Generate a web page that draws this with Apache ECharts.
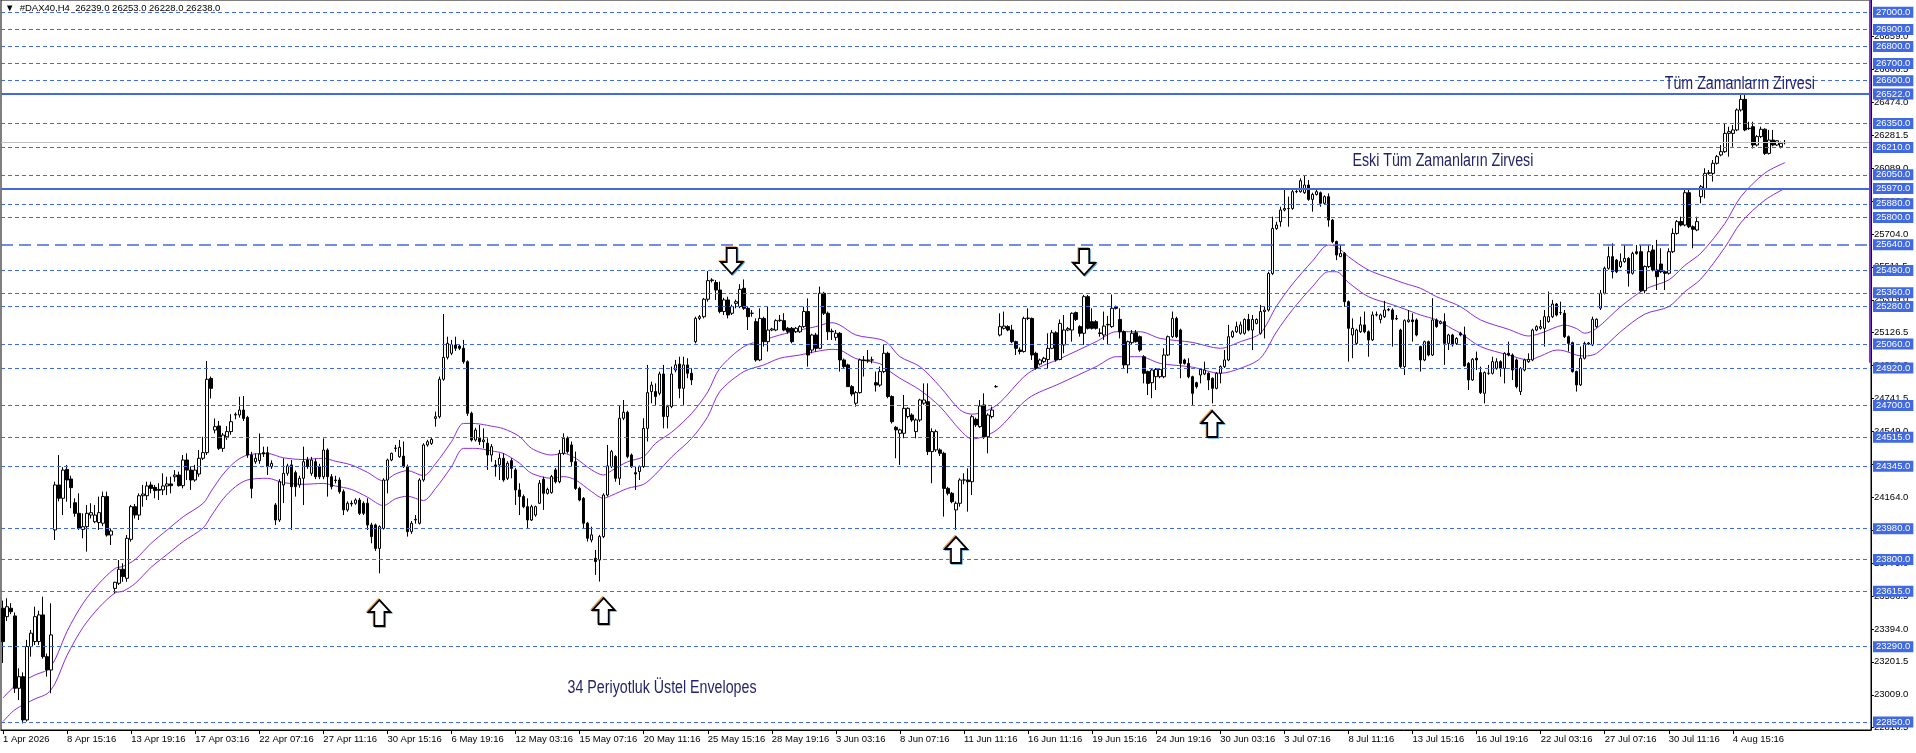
<!DOCTYPE html>
<html><head><meta charset="utf-8">
<script src="https://cdn.jsdelivr.net/npm/echarts@6/dist/echarts.min.js"></script>
<style>html,body{margin:0;padding:0;background:#fff}#c{width:1916px;height:753px}</style>
</head><body><div id="c"></div>
<script>
// ---------- DATA ----------
const openP = [
23515,23466,23515,23470,23047,23115,22862,23291,23320,23320,
23476,23232,23154,23973,24236,24158,24327,24271,24132,24070,
23976,23992,24060,24021,24016,24012,24168,23943,23631,23661,
23743,23690,23918,24109,24060,24173,24173,24236,24222,24210,
24207,24230,24242,24284,24294,24232,24382,24323,24265,24300,
24392,24425,24859,24557,24581,24450,24518,24548,24645,24645,
24674,24631,24411,24372,24378,24425,24425,24343,24119,24031,
24236,24304,24353,24308,24236,24275,24382,24304,24372,24343,
24284,24440,24284,24265,24265,24197,24090,24129,24129,24148,
24129,24129,24002,24002,23865,23982,24265,24382,24450,24401,
24405,24343,23963,24031,24012,24265,24470,24479,24625,24635,
24854,24982,25006,25054,25048,25035,24957,24655,24499,24509,
24489,24480,24411,24353,24353,24392,24275,24378,24324,24207,
24168,24109,24031,24060,24129,24269,24187,24191,24324,24255,
24421,24509,24470,24372,24216,24158,24012,23914,23807,23797,
23934,24177,24343,24402,24275,24626,24661,24411,24308,24314,
24343,24567,24782,24782,24772,24885,24636,24694,24908,24943,
24801,24938,24889,25074,25210,25220,25322,25431,25420,25376,
25250,25318,25240,25298,25279,25386,25269,25240,25191,24967,
25210,25074,25142,25142,25197,25197,25152,25152,25132,25132,
25162,25250,25025,25113,25035,25357,25240,25136,25099,25123,
24967,24938,24811,24714,24776,24967,24963,24967,24834,24820,
24899,25006,24753,24573,24538,24538,24636,24645,24548,24616,
24714,24723,24431,24441,24441,24421,24216,24187,24090,24129,
24265,24265,24255,24620,24577,24704,24518,24636,24811,25113,
25152,25162,25142,25074,25025,25016,25210,25210,25006,24943,
24957,24970,25035,25126,24970,25055,25142,25142,25244,25162,
25123,25337,25191,25191,25125,25113,25172,25162,25279,25204,
25132,24938,25068,25126,25103,24986,24899,24834,24869,24869,
24869,24996,25103,25210,25142,24967,24947,24869,24834,24879,
24885,24889,24860,24801,24889,24928,24967,25103,25132,25123,
25123,25204,25142,25181,25123,25250,25259,25473,25736,25775,
25844,25853,25853,25951,25951,25945,25990,25906,25935,25945,
25883,25922,25785,25659,25571,25590,25308,25113,25064,25132,
25172,25132,25084,25230,25204,25220,25259,25259,25210,25142,
24928,25191,25201,25201,25045,24967,25074,24996,25201,25181,
25191,25064,25113,25064,25123,25113,24947,24850,24977,24893,
24772,24889,24889,24918,24957,24918,25006,24996,24967,24782,
24908,24957,24967,25142,25152,25152,25191,25220,25294,25244,
25240,25103,25068,24899,24821,24977,25060,25055,25162,25270,
25357,25503,25571,25551,25513,25542,25561,25474,25600,25600,
25372,25513,25610,25493,25528,25483,25474,25600,25707,25776,
25756,25945,25746,25727,25922,25970,26058,26058,26117,26166,
26185,26292,26292,26312,26429,26491,26322,26331,26224,26273,
26316,26175,26253,26224,26214,26239];
const closeP = [
23320,23524,23495,23047,23115,22862,23291,23369,23466,23476,
23232,23154,23359,24236,24158,24323,24265,24220,24070,23982,
23992,24070,24074,24060,24074,24168,23943,23967,23667,23743,
23700,23924,24109,24060,24173,24183,24230,24216,24203,24205,
24230,24242,24232,24294,24232,24382,24323,24265,24323,24392,
24425,24854,24801,24577,24450,24528,24548,24606,24649,24674,
24625,24411,24216,24392,24417,24417,24343,24362,24031,24255,
24304,24347,24226,24226,24275,24372,24343,24382,24284,24284,
24440,24284,24226,24262,24197,24090,24129,24125,24148,24070,
24070,24002,23934,23865,23992,24265,24382,24421,24452,24456,
24343,23963,24012,24035,24265,24470,24489,24503,24635,24854,
24982,25064,25058,25035,25035,24957,24655,24499,24557,24489,
24499,24411,24460,24343,24392,24265,24363,24333,24207,24168,
24109,24031,24109,24109,24246,24187,24210,24285,24255,24421,
24509,24431,24372,24216,24148,24012,23924,23944,23788,23934,
24177,24347,24431,24275,24626,24661,24402,24343,24300,24343,
24567,24776,24820,24753,24885,24636,24694,24885,24938,24801,
24938,24889,24850,25210,25220,25322,25431,25435,25376,25250,
25318,25230,25279,25308,25380,25269,25220,25240,24967,25210,
25074,25142,25148,25197,25200,25142,25132,25074,25152,25162,
25250,24996,25113,25035,25357,25240,25132,25132,25123,24967,
24928,24811,24768,24776,24967,24963,24967,24967,24820,24899,
25006,24753,24606,24558,24558,24684,24684,24616,24616,24733,
24733,24431,24548,24548,24421,24216,24187,24138,24129,24265,
24265,24255,24635,24587,24698,24518,24645,24674,24811,25162,
25165,25142,25074,25035,25016,25210,25212,24996,24918,24967,
24977,25035,25126,24967,25181,25142,25150,25240,25204,25123,
25337,25152,25152,25152,25122,25165,25175,25269,25269,25132,
24938,25074,25123,25074,25025,24889,24830,24908,24912,24912,
24996,25103,25210,25103,24947,24947,24869,24772,24811,24912,
24908,24850,24801,24889,24928,24967,25103,25132,25162,25172,
25204,25142,25204,25204,25250,25259,25473,25736,25756,25844,
25853,25852,25951,25953,26015,25990,25906,25935,25951,25883,
25922,25785,25659,25581,25590,25308,25152,25152,25142,25172,
25132,25084,25230,25232,25230,25259,25262,25204,25207,24928,
25197,25201,25191,25113,24967,25074,24996,25201,25162,25191,
25064,25113,25055,25093,25113,24932,24850,24971,24967,24776,
24893,24889,24957,24957,24918,25006,24996,24908,24811,24918,
24967,24971,25142,25162,25162,25220,25220,25294,25230,25244,
25103,25064,24899,24821,24977,25064,25066,25205,25205,25357,
25503,25571,25483,25483,25542,25561,25474,25590,25590,25372,
25513,25600,25493,25454,25483,25474,25600,25707,25776,25756,
25945,25746,25731,25776,25980,26058,26062,26117,26156,26185,
26292,26302,26312,26429,26491,26312,26320,26224,26273,26316,
26175,26253,26224,26249,26234,26238];
const lowP = [
23195,23440,23480,23020,22978,22842,22852,23232,23300,23300,
23220,23115,23018,23914,24140,24060,24138,24100,24050,23973,
23924,23846,24040,24012,23973,23995,23934,23885,23602,23651,
23670,23670,23904,24040,24031,24109,24148,24187,24158,24148,
24177,24177,24187,24255,24226,24216,24265,24207,24255,24284,
24382,24411,24742,24538,24440,24430,24500,24530,24620,24630,
24610,24395,24158,24360,24360,24400,24294,24330,24002,24020,
24130,24290,23973,24168,24220,24119,24330,24290,24270,24270,
24270,24168,24210,24245,24185,24060,24080,24110,24120,24060,
24060,23973,23895,23850,23719,23975,24187,24375,24430,24395,
24335,23934,23950,24010,24005,24255,24460,24470,24577,24625,
24845,24970,24995,25020,25025,24945,24640,24490,24490,24470,
24450,24324,24372,24285,24265,24255,24265,24275,24119,24060,
24100,23983,24025,24050,24125,24090,24180,24185,24245,24246,
24411,24420,24343,24207,24140,23983,23905,23900,23710,23671,
23925,24168,24335,24255,24236,24615,24392,24335,24207,24265,
24335,24490,24714,24704,24760,24567,24567,24685,24895,24743,
24704,24860,24820,25064,25200,25210,25308,25420,25318,25240,
25230,25210,25230,25269,25270,25260,25142,25220,24957,24960,
25045,25016,25135,25135,25190,25135,25120,25064,25125,25125,
25155,24928,25006,25016,25030,25230,25084,25084,25080,24899,
24915,24811,24755,24694,24770,24870,24950,24947,24782,24810,
24890,24743,24595,24392,24353,24509,24625,24605,24509,24605,
24705,24411,24246,24430,24405,24051,24175,24129,23973,24109,
24240,24080,24177,24575,24570,24505,24421,24625,24805,25105,
25145,25135,25065,24996,25000,25010,25200,24967,24910,24935,
24950,24918,25030,24957,24965,25006,25135,25074,25195,25103,
25055,25145,25145,25145,25103,25084,25055,25155,25262,25093,
24918,24889,25060,25068,25015,24830,24762,24743,24791,24860,
24860,24990,25095,25095,24860,24940,24860,24704,24800,24830,
24878,24791,24713,24795,24830,24920,24960,25095,25125,25115,
25115,25135,25025,25175,25115,25093,25250,25464,25728,25746,
25836,25746,25845,25942,25945,25938,25898,25834,25928,25863,
25875,25746,25650,25551,25571,25278,24957,24977,25055,25125,
25123,24986,25078,25222,25181,25212,25252,25045,25200,24918,
24879,25185,25074,25105,24899,24960,24988,24990,25155,25175,
24938,25025,25045,25055,25105,24928,24791,24845,24908,24768,
24713,24880,24882,24910,24869,24830,24988,24850,24801,24762,
24900,24950,24960,25135,25145,25045,25185,25212,25222,25230,
25095,25016,24893,24782,24815,24970,25055,25048,25155,25259,
25350,25495,25444,25475,25505,25535,25396,25466,25582,25365,
25357,25505,25485,25376,25475,25376,25466,25592,25700,25748,
25748,25738,25620,25720,25883,25912,26050,26010,26110,26158,
26178,26156,26214,26305,26420,26305,26312,26204,26216,26265,
26166,26168,26216,26218,26204,26228];
const highP = [
23560,23573,23545,23490,23164,23140,23330,23388,23524,23500,
23583,23250,23544,24255,24411,24340,24353,24290,24158,24187,
24070,24119,24129,24119,24168,24197,24197,23982,23670,23797,
23778,23943,24119,24125,24187,24236,24255,24255,24236,24246,
24304,24284,24284,24323,24314,24411,24421,24343,24353,24440,
24518,24961,24870,24625,24610,24540,24580,24650,24660,24752,
24756,24640,24430,24420,24537,24460,24460,24380,24130,24270,
24392,24360,24382,24320,24290,24460,24400,24400,24390,24360,
24508,24450,24300,24290,24280,24210,24140,24145,24158,24160,
24140,24158,24015,24010,24000,24275,24390,24425,24470,24499,
24490,24355,24025,24060,24275,24480,24500,24515,24665,24870,
25236,25103,25084,25103,25060,25084,24965,24665,24570,24587,
24567,24509,24475,24382,24421,24421,24375,24392,24335,24246,
24180,24158,24120,24115,24265,24285,24220,24295,24335,24441,
24538,24520,24490,24431,24225,24165,24020,23992,23856,23944,
24187,24470,24441,24410,24704,24733,24670,24420,24343,24350,
24626,24938,24840,24830,24899,24938,24705,24928,24967,24986,
24986,24977,24918,25220,25230,25330,25487,25445,25435,25425,
25330,25337,25290,25320,25410,25438,25280,25259,25210,25269,
25220,25279,25155,25205,25230,25240,25160,25160,25160,25170,
25279,25327,25120,25125,25396,25365,25250,25150,25142,25130,
24975,24945,24820,24785,24975,24990,25025,24986,24899,24928,
25055,25015,24760,24580,24565,24762,24690,24655,24625,24740,
24830,24830,24567,24560,24450,24430,24225,24195,24140,24275,
24304,24333,24645,24630,24733,24772,24655,24694,24820,25240,
25250,25170,25172,25080,25040,25220,25269,25215,25015,24975,
24985,25123,25142,25135,25204,25230,25160,25245,25250,25170,
25347,25347,25269,25200,25152,25250,25225,25350,25285,25269,
25140,25080,25142,25142,25110,24995,24905,24915,24920,24920,
25035,25110,25250,25220,25150,24975,24977,24875,24840,24920,
24957,24895,24865,24895,24935,25025,25172,25140,25191,25191,
25210,25236,25230,25210,25289,25279,25483,25805,25775,25863,
25964,25922,25964,25962,26029,26048,26019,25945,25961,25952,
25930,25941,25792,25665,25639,25598,25315,25210,25150,25220,
25250,25140,25250,25250,25238,25313,25270,25269,25230,25150,
25205,25259,25240,25210,25050,25080,25080,25328,25210,25198,
25240,25120,25120,25100,25132,25162,24955,24978,25016,24928,
24900,24938,24986,24977,24965,25012,25074,25005,24975,24925,
24975,25006,25150,25170,25201,25259,25367,25318,25300,25308,
25259,25110,25074,24905,25045,25074,25072,25220,25210,25376,
25513,25630,25649,25558,25590,25639,25568,25600,25639,25639,
25520,25639,25639,25669,25620,25490,25620,25737,25785,25805,
25970,25970,25754,25805,25990,26088,26078,26136,26166,26224,
26351,26331,26341,26438,26516,26516,26360,26360,26282,26331,
26322,26312,26312,26253,26244,26253];

// 34-period exponential envelopes, read at sample bars
const envBar = [0,3,8,11,13,16,20,24,28,30,33,37,41,45,50,52,55,58,61,66,70,75,80,83,87,91,95,98,101,105,108,112,115,118,122,125,129,132,137,140,143,147,150,152,156,160,163,167,172,176,179,185,190,194,199,203,207,209,213,219,221,224,229,234,239,242,248,256,264,273,278,284,289,297,304,309,314,318,322,327,331,333,336,341,347,350,354,358,362,364,369,376,381,384,388,390,393,395,398,404,410,416,420,424,430,434,440,445];
const envUpper = [22990,23060,23125,23154,23215,23380,23544,23661,23748,23760,23800,23895,23973,24050,24129,24200,24300,24372,24411,24420,24395,24385,24392,24375,24353,24310,24260,24300,24320,24290,24360,24489,24596,24595,24580,24565,24519,24450,24411,24421,24392,24324,24294,24320,24372,24402,24480,24545,24655,24780,24918,25045,25084,25113,25142,25162,25185,25171,25113,25088,25064,24986,24928,24811,24675,24650,24700,24889,24975,25074,25132,25132,25093,25070,25035,25074,25123,25280,25410,25545,25639,25630,25571,25493,25440,25415,25386,25337,25300,25279,25201,25146,25107,25123,25160,25171,25150,25123,25152,25279,25380,25435,25520,25591,25765,25922,26060,26121];
const envLower = [22852,22922,22985,23015,23075,23240,23404,23520,23605,23615,23660,23755,23830,23905,23985,24055,24155,24225,24265,24275,24250,24240,24245,24230,24210,24165,24115,24155,24170,24145,24215,24343,24450,24450,24435,24420,24363,24304,24275,24285,24265,24197,24158,24175,24216,24240,24300,24400,24509,24636,24782,24899,24938,24977,24996,25016,25029,25025,24975,24945,24908,24860,24791,24694,24558,24505,24555,24742,24830,24928,24986,24986,24947,24925,24889,24918,24977,25130,25260,25395,25483,25483,25420,25337,25290,25265,25230,25201,25148,25123,25045,24996,24967,24990,25025,25020,24995,24990,25006,25133,25235,25279,25366,25440,25625,25770,25902,25970];

// horizontal price levels drawn on the chart
const dashedLevels = [27000,26900,26800,26700,26600,26350,26210,26050,25880,25800,25490,25360,25280,25060,24920,24700,24515,24345,23980,23800,23615,23290,22850];
const solidLevels = [26522,25970];
const longDashLevels = [25640];
const bidPrice = 26238;
const priceTicks = [22816.5,23009,23201.5,23394,23586.5,23779,23971.5,24164,24356.5,24549,24741.5,24934,25126.5,25319,25511.5,25704,25896.5,26089,26281.5,26474,26666.5,26859];
const edgeMarkerLowPrice = 24950;   // purple marker on the right border runs from the top down to this price

// arrow markers: [bar, price]
const upArrows = [[94,23487],[150,23499],[238,23856],[302,24593]];
const downArrows = [[182,25546],[270,25540]];
// text notes anchored at [bar, price]
const notes = [
  {text:'Tüm Zamanların Zirvesi', bar:415, price:26581},
  {text:'Eski Tüm Zamanların Zirvesi', bar:336.5, price:26131},
  {text:'34 Periyotluk Üstel Envelopes', bar:140.8, price:23049}
];
const headerText = '\u25BC  #DAX40,H4  26239.0 26253.0 26228.0 26238.0';

// ---------- bar time labels (H4, trading calendar) ----------
const MON = ['Jan','Feb','Mar','Apr','May','Jun','Jul','Aug','Sep','Oct','Nov','Dec'];
const closedDays = ['2026-04-03','2026-04-06','2026-05-01'];
const cats = [];
{
  const d = new Date(Date.UTC(2026,3,1));
  const n = openP.length;
  while (cats.length < n) {
    const dow = d.getUTCDay();
    const key = d.toISOString().slice(0,10);
    if (dow !== 0 && dow !== 6 && closedDays.indexOf(key) < 0) {
      const hours = cats.length === 0 ? [11,15,19] : [3,7,11,15,19];
      for (const h of hours) if (cats.length < n) cats.push(d.getUTCDate()+' '+MON[d.getUTCMonth()]+' '+(h<10?'0'+h:h)+':16');
    }
    if (key === '2026-06-14') cats.push('14 Jun 23:16');
    d.setUTCDate(d.getUTCDate()+1);
  }
}
const PAD = 21;
const xData = cats.concat(Array.from({length:PAD}, (_, i) => 'pad' + i));
const N = cats.length;

// ---------- chart ----------
const FONT = "'Liberation Sans', 'DejaVu Sans', sans-serif";
const BLUE = '#4169E1';
const chart = echarts.init(document.getElementById('c'));

const levelLines = [];
dashedLevels.forEach(v => levelLines.push({yAxis:v, lineStyle:{type:[4,3], width:1, color:BLUE}}));
solidLevels.forEach(v => levelLines.push({yAxis:v, lineStyle:{type:'solid', width:2, color:BLUE}}));
longDashLevels.forEach(v => levelLines.push({yAxis:v, lineStyle:{type:[12,6], width:1.5, color:BLUE}}));
levelLines.push({yAxis:bidPrice, lineStyle:{type:'solid', width:1, color:'#C0C0C0'}, label:{show:false}});

const upPath = 'path://M11 0 L22 12 L16 12 L16 26 L6 26 L6 12 L0 12 Z';
const downPath = 'path://M6 0 L16 0 L16 14 L22 14 L11 26 L0 14 L6 14 Z';
const allArrows = upArrows.map(a => ({c:a, s:upPath})).concat(downArrows.map(a => ({c:a, s:downPath})));
const arrowPts = [];
allArrows.forEach(a => {
  arrowPts.push({coord:[a.c[0], a.c[1]], symbol:a.s, symbolOffset:[-1,-1], itemStyle:{color:'rgba(0,0,0,0)', borderColor:'#E89A3C', borderWidth:1.5}});
  arrowPts.push({coord:[a.c[0], a.c[1]], symbol:a.s, symbolOffset:[1,1], itemStyle:{color:'rgba(0,0,0,0)', borderColor:'#5FA8F0', borderWidth:1.5}});
  arrowPts.push({coord:[a.c[0], a.c[1]], symbol:a.s, itemStyle:{color:'#fff', borderColor:'#000', borderWidth:1.8}});
});

const showIdx = (i) => i < N && i % 16 === 0;

chart.setOption({
  animation:false,
  backgroundColor:'#fff',
  grid:{left:1, right:45, top:0, bottom:23, show:true, borderColor:'#000', borderWidth:1, backgroundColor:'#fff'},
  xAxis:{
    type:'category', data:xData, boundaryGap:true,
    axisLine:{show:true, lineStyle:{color:'#000', width:1}},
    axisTick:{show:true, alignWithLabel:true, interval:showIdx, length:4, lineStyle:{color:'#000'}},
    axisLabel:{interval:showIdx, align:'left', margin:4, color:'#000', fontSize:9.5, fontFamily:FONT,
      formatter:(v, i) => i === 0 ? '1 Apr 2026' : v},
    splitLine:{show:false}
  },
  yAxis:{
    type:'value', position:'right', min:22803, max:27072,
    axisLine:{show:true, lineStyle:{color:'#000', width:1}},
    axisTick:{show:true, customValues:priceTicks, length:3, lineStyle:{color:'#000'}},
    axisLabel:{customValues:priceTicks, formatter:v => v.toFixed(1), color:'#000', fontSize:9.5, margin:3, fontFamily:FONT},
    splitLine:{show:false}
  },
  series:[
    {
      type:'line', data:[], z:1, silent:true,
      markLine:{
        silent:true, symbol:['none','none'], animation:false,
        label:{show:true, position:'end', distance:2, formatter:p => Number(p.value).toFixed(1),
          backgroundColor:BLUE, color:'#fff', padding:[1,3,0,3], fontSize:9.5, fontFamily:FONT},
        data:levelLines
      }
    },
    {
      type:'line', name:'envUpper', z:2, silent:true, showSymbol:false, smooth:0.3,
      data:envBar.map((b, i) => [b, envUpper[i]]),
      lineStyle:{color:'#8A2BE2', width:1}
    },
    {
      type:'line', name:'envLower', z:2, silent:true, showSymbol:false, smooth:0.3,
      data:envBar.map((b, i) => [b, envLower[i]]),
      lineStyle:{color:'#8A2BE2', width:1}
    },
    {
      type:'candlestick', z:3, barWidth:3,
      data:openP.map((o, i) => [o, closeP[i], lowP[i], highP[i]]),
      itemStyle:{color:'#fff', color0:'#000', borderColor:'#000', borderColor0:'#000', borderWidth:1},
      markPoint:{
        silent:true, animation:false, symbolSize:[22,26], label:{show:false},
        data:arrowPts
      }
    }
  ]
});

const g = [{
  type:'text', x:5, y:3, z:10,
  style:{text:headerText, fill:'#000', fontSize:9.5, fontFamily:FONT, textVerticalAlign:'top'}
}];
notes.forEach(nt => {
  const p = chart.convertToPixel({xAxisIndex:0, yAxisIndex:0}, [nt.bar, nt.price]);
  g.push({type:'text', x:p[0], y:p[1], scaleX:0.79, z:10,
    style:{text:nt.text, fill:'#24246A', fontSize:18, fontFamily:FONT, textVerticalAlign:'middle'}});
});
// purple marker along the right border of the plot
const gridRect = chart.getModel().getComponent('grid', 0).coordinateSystem.getRect();
const yLow = chart.convertToPixel({yAxisIndex:0}, edgeMarkerLowPrice);
g.push({type:'line', z:10, silent:true,
  shape:{x1:gridRect.x + gridRect.width - 1, y1:gridRect.y, x2:gridRect.x + gridRect.width - 1, y2:yLow},
  style:{stroke:'#7E35C8', lineWidth:2}});
chart.setOption({graphic:g});
</script>
</body></html>
